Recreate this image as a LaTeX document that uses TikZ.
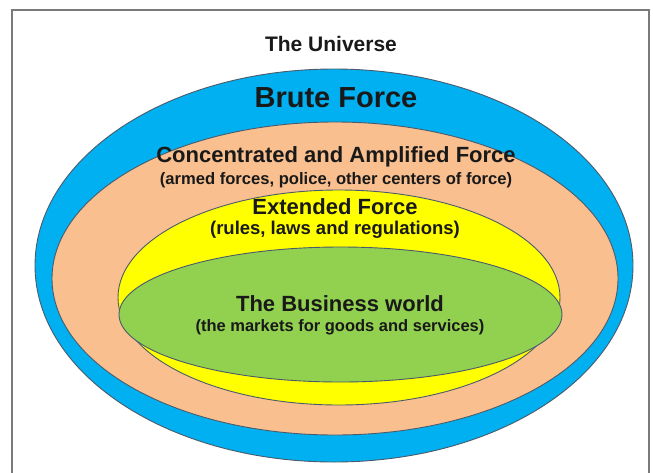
\documentclass[tikz,border=0pt]{standalone}
\usepackage{fontspec}
\setmainfont{Liberation Sans}
\definecolor{brute}{HTML}{00B0F0}
\definecolor{amplified}{HTML}{F9BF8F}
\definecolor{extended}{HTML}{FFFF00}
\definecolor{business}{HTML}{92D050}
\definecolor{rim}{HTML}{4A5B6C}
\definecolor{frame}{HTML}{7A7A7A}
\begin{document}
\begin{tikzpicture}[x=1pt,y=-1pt,
  ring/.style={draw=rim,line width=0.9pt},
  lbl/.style={font=\bfseries,text=black!90,inner sep=0pt,align=center}]
\useasboundingbox (0,0) rectangle (653,472);
\clip (0,0) rectangle (653,472);
\fill[white] (0,0) rectangle (653,472);
% outer frame (continues below the lower edge)
\draw[frame,line width=1.8pt] (12,10) rectangle (649,490);
% nested force regions
\draw[ring,fill=brute] (334,265.5) ellipse [x radius=299,y radius=196.5];
\draw[ring,fill=amplified] (335,278.5) ellipse [x radius=283,y radius=156.5];
\draw[ring,fill=extended] (339,297.5) ellipse [x radius=221,y radius=107.5];
\draw[ring,fill=business] (340.5,314.5) ellipse [x radius=221.5,y radius=67.5];
% labels
\node[lbl,font=\bfseries\fontsize{21}{24}\selectfont] (universe) at (331,44) {The Universe};
\node[lbl,font=\bfseries\fontsize{29}{32}\selectfont] (brute) at (336,98) {Brute Force};
\node[lbl,font=\bfseries\fontsize{22}{25}\selectfont] (conc) at (336,157) {Concentrated and Amplified Force};
\node[lbl,font=\bfseries\fontsize{16.6}{19}\selectfont] (conc2) at (336,180) {(armed forces, police, other centers of force)};
\node[lbl,font=\bfseries\fontsize{22}{25}\selectfont] (ext) at (335,207) {Extended Force};
\node[lbl,font=\bfseries\fontsize{18.5}{21}\selectfont] (ext2) at (335,230) {(rules, laws and regulations)};
\node[lbl,font=\bfseries\fontsize{22}{25}\selectfont] (biz) at (340,304) {The Business world};
\node[lbl,font=\bfseries\fontsize{16.5}{19}\selectfont] (biz2) at (340,327) {(the markets for goods and services)};
\end{tikzpicture}
\end{document}
